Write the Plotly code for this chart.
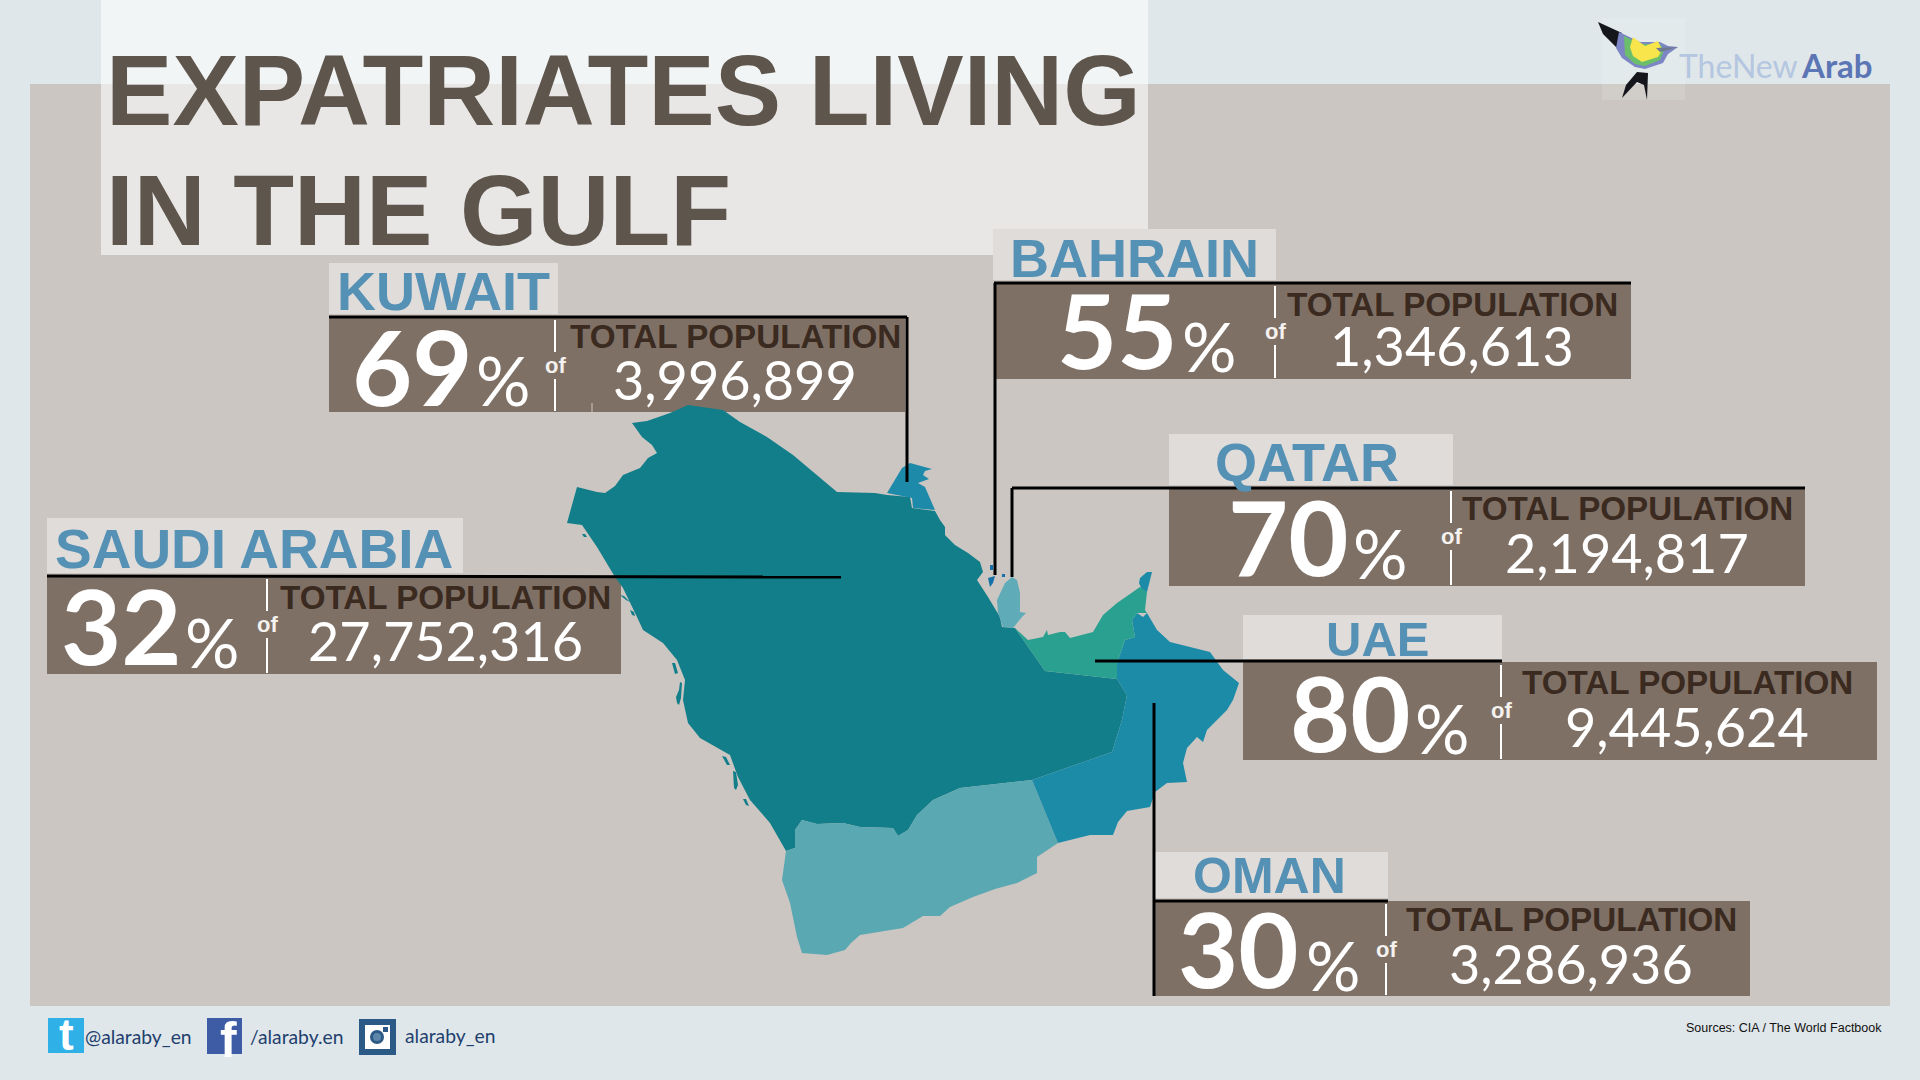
import plotly.graph_objects as go

countries = ['KUWAIT', 'BAHRAIN', 'QATAR', 'UAE', 'OMAN', 'SAUDI ARABIA']
expat_pct = [69, 55, 70, 80, 30, 32]
population = [3996899, 1346613, 2194817, 9445624, 3286936, 27752316]

# map outlines (x, y in image pixels)
saudi = [(577, 487), (597, 492), (605, 493), (615, 486), (623, 475), (640, 468), (648, 458), (657, 453),
         (652, 445), (642, 437), (632, 423), (647, 421), (670, 413), (688, 405), (723, 410), (740, 422),
         (767, 437), (793, 455), (837, 492), (875, 493), (887, 495), (910, 497), (912, 508), (935, 511),
         (940, 520), (945, 527), (945, 535), (955, 545), (968, 553), (980, 562), (983, 572), (977, 580),
         (988, 597), (1000, 617), (1002, 627), (1015, 628), (1045, 671), (1117, 679), (1127, 695), (1122, 720),
         (1112, 752), (1032, 780), (960, 788), (933, 800), (917, 815), (908, 830), (898, 836), (893, 828),
         (860, 827), (843, 823), (817, 824), (802, 820), (795, 830), (795, 848), (786, 851), (770, 823),
         (750, 800), (738, 777), (730, 755), (713, 745), (700, 738), (688, 723), (683, 700), (685, 680),
         (677, 660), (663, 643), (643, 630), (637, 617), (623, 588), (615, 577), (597, 547), (582, 525),
         (567, 523)]
saudi_islands = [[(672, 663), (675, 663), (678, 673), (675, 674)],
                 [(680, 682), (682, 683), (681, 698), (679, 705), (677, 703), (676, 697), (679, 690)],
                 [(722, 756), (726, 757), (730, 765), (727, 765)],
                 [(733, 771), (736, 772), (738, 785), (736, 790), (734, 788)],
                 [(743, 799), (746, 799), (749, 806), (746, 805)],
                 [(582, 534), (585, 534), (587, 537), (584, 537)],
                 [(620, 595), (624, 596), (630, 602), (626, 600)],
                 [(630, 610), (634, 612), (635, 616), (632, 615)]]
yemen = [(786, 851), (795, 848), (795, 830), (802, 820), (817, 824), (843, 823), (860, 827), (893, 828),
         (898, 836), (908, 830), (917, 815), (933, 800), (960, 788), (1032, 780), (1058, 843), (1037, 857),
         (1037, 873), (1017, 883), (995, 889), (973, 897), (950, 907), (940, 916), (923, 916), (903, 928),
         (860, 935), (851, 943), (845, 950), (827, 955), (802, 953), (797, 937), (790, 903), (782, 880)]
oman = [(1147, 613), (1157, 630), (1170, 642), (1210, 652), (1223, 670), (1239, 683), (1233, 700),
        (1227, 710), (1207, 730), (1203, 742), (1197, 737), (1187, 748), (1183, 763), (1187, 782),
        (1167, 783), (1155, 792), (1150, 807), (1127, 811), (1118, 822), (1113, 835), (1090, 835),
        (1058, 843), (1032, 780), (1112, 752), (1122, 720), (1127, 695), (1117, 679), (1117, 663),
        (1125, 640), (1135, 637), (1132, 620), (1137, 613), (1143, 617)]
musandam = [(1140, 578), (1147, 572), (1152, 572), (1147, 592), (1142, 590), (1139, 583)]
uae = [(1015, 628), (1028, 640), (1043, 637), (1047, 630), (1048, 635), (1060, 632), (1065, 632), (1070, 638),
       (1093, 632), (1103, 615), (1117, 603), (1140, 587), (1147, 592), (1145, 610), (1147, 613), (1137, 613),
       (1132, 620), (1135, 637), (1125, 640), (1117, 663), (1117, 679), (1045, 671)]
kuwait = [(887, 493), (902, 468), (910, 463), (932, 469), (925, 471), (923, 475), (929, 479), (918, 483),
          (925, 487), (932, 503), (935, 510), (913, 508), (912, 498)]
qatar = [(1012, 577), (1017, 580), (1020, 593), (1020, 612), (1026, 613), (1022, 617), (1013, 628), (1003, 627),
         (998, 613), (997, 600), (1005, 583)]
bahrain = [(988, 578), (995, 576), (993, 583), (990, 587)]
bahrain_islets = [[(990, 565), (993, 565), (993, 570), (990, 570)], [(1002, 574), (1005, 574), (1005, 577), (1002, 577)]]

# logo bird
bird_wing = [(1598, 22), (1622, 33), (1617, 48), (1611, 42), (1603, 34)]
bird_band = [(1619, 32), (1640, 42), (1660, 42), (1668, 46), (1678, 47), (1668, 54), (1663, 63), (1645, 69),
             (1635, 67), (1622, 58), (1616, 48)]
bird_green = [(1624, 36), (1640, 44), (1660, 44), (1664, 50), (1660, 60), (1645, 66), (1635, 64), (1625, 55)]
bird_yellow = [(1633, 37), (1645, 46), (1658, 41), (1662, 50), (1658, 57), (1642, 62), (1633, 56), (1630, 47)]
bird_beak = [(1656, 48), (1678, 47), (1668, 50), (1660, 52)]
bird_tail = [(1637, 72), (1648, 73), (1647, 100), (1644, 85), (1637, 82), (1622, 98), (1626, 85)]

# panel layout, one per country, same order as countries
panels = [
    dict(y=317, x0=329, x1=905, h=95, lx0=329, lx1=558, lt=263, lc=443, ls=54, ly=-26, div=555, big=412, pct=503, tot=735,
         dbig=4, dpct=0, dtot=0, dnum=0),
    dict(y=283, x0=994, x1=1631, h=96, lx0=993, lx1=1276, lt=229, lc=1134, ls=54, ly=-25, div=1275, big=1117, pct=1209, tot=1452,
         dbig=1, dpct=0, dtot=2.5, dnum=0),
    dict(y=488, x0=1169, x1=1805, h=98, lx0=1169, lx1=1453, lt=434, lc=1307, ls=54, ly=-26, div=1451, big=1288, pct=1380, tot=1627,
         dbig=3, dpct=2, dtot=1, dnum=2.5),
    dict(y=662, x0=1243, x1=1877, h=98, lx0=1243, lx1=1502, lt=615, lc=1377, ls=49, ly=-23, div=1501, big=1350, pct=1442, tot=1687,
         dbig=5, dpct=3, dtot=1, dnum=2.5),
    dict(y=901, x0=1154, x1=1750, h=95, lx0=1155, lx1=1388, lt=852, lc=1269, ls=50, ly=-25, div=1386, big=1238, pct=1333, tot=1571,
         dbig=2, dpct=1, dtot=-1, dnum=0),
    dict(y=576, x0=47, x1=621, h=98, lx0=47, lx1=463, lt=518, lc=254, ls=55, ly=-27, div=267, big=121, pct=212, tot=445,
         dbig=4, dpct=3, dtot=2.5, dnum=2.5),
]
# black leader lines
leaders = [(329, 317, 907, 317), (907, 317, 907, 482),
           (994, 283, 1631, 283), (995, 283, 995, 575),
           (1012, 488, 1805, 488), (1012, 488, 1012, 577),
           (1095, 661, 1502, 661),
           (1154, 703, 1154, 996), (1154, 901, 1388, 901),
           (47, 576, 841, 577)]

BG = '#e0e7ea'
SAND = '#cbc6c2'
BOX = '#7f7066'
LABEL_BOX = '#e0dcd9'
LABEL = '#5590b5'
DARK = '#3a2a20'
TITLE = '#5e554d'

fig = go.Figure()


def poly(points, color):
    fig.add_trace(go.Scatter(x=[p[0] for p in points], y=[p[1] for p in points], mode='lines',
                             fill='toself', fillcolor=color, line=dict(width=0, color=color),
                             hoverinfo='skip', showlegend=False))


def rect(x0, y0, x1, y1, color, layer='below', opacity=1):
    fig.add_shape(type='rect', x0=x0, y0=y0, x1=x1, y1=y1, fillcolor=color, opacity=opacity,
                  line_width=0, layer=layer)


def line(x0, y0, x1, y1, color='#000000', width=3):
    fig.add_shape(type='line', x0=x0, y0=y0, x1=x1, y1=y1, line=dict(color=color, width=width), layer='above')


def text(x, y, s, size, color, font='Liberation Sans', anchor='center', bold=False):
    fig.add_annotation(x=x, y=y, text='<b>%s</b>' % s if bold else s, showarrow=False, xanchor=anchor,
                       yanchor='middle', font=dict(family=font, size=size, color=color))


rect(30, 84, 1890, 1006, SAND)
rect(101, 0, 1148, 255, '#ffffff', opacity=0.58)
rect(1602, 18, 1685, 100, '#ffffff', opacity=0.12)

for name, pct, pop, p in zip(countries, expat_pct, population, panels):
    y = p['y']
    rect(p['lx0'], p['lt'], p['lx1'], y - 3, LABEL_BOX)
    rect(p['x0'], y, p['x1'], y + p['h'], BOX)
    line(p['div'], y + 3, p['div'], y + 35, '#ffffff', 2)
    line(p['div'], y + 62, p['div'], y + p['h'] - 1, '#ffffff', 2)
    text(p['lc'], y + p['ly'], name, p['ls'], LABEL, bold=True)
    text(p['big'], y + 44 + p['dbig'], str(pct), 104, '#ffffff', 'Lato', bold=True)
    text(p['pct'], y + 62 + p['dpct'], '%', 68, '#ffffff', 'Lato')
    text(p['div'], y + 48, 'of', 22, '#f4f1ee', bold=True)
    text(p['tot'], y + 19 + p['dtot'], 'TOTAL POPULATION', 33.2, DARK, bold=True)
    text(p['tot'], y + 62 + p['dnum'], format(pop, ','), 54, '#ffffff', 'Lato')

line(592, 403, 592, 412, '#cbc6c2', 1)

poly(saudi, '#127e8a')
for isl in saudi_islands:
    poly(isl, '#127e8a')
poly(yemen, '#5aa8b2')
poly(oman, '#1c8ba8')
poly(musandam, '#1c8ba8')
poly(uae, '#2aa190')
poly(kuwait, '#1e8aaa')
poly(qatar, '#5fabb8')
poly(bahrain, '#1670a8')
for isl in bahrain_islets:
    poly(isl, '#1670a8')

poly(bird_wing, '#15151c')
poly(bird_band, '#7d86c4')
poly(bird_green, '#6cbf6a')
poly(bird_yellow, '#f7e54b')
poly(bird_beak, '#6d7a90')
poly(bird_tail, '#15151c')

for l in leaders:
    line(*l)

text(104, 90, 'EXPATRIATES LIVING', 99.6, TITLE, anchor='left', bold=True)
text(104, 210, 'IN THE GULF', 99.6, TITLE, anchor='left', bold=True)

text(1800, 65, 'TheNew', 32, '#b4c6e0', 'Lato', anchor='right')
text(1799, 65, 'Arab', 33, '#5b75b5', 'Lato', anchor='left', bold=True)

# footer icons
rect(48, 1018, 84, 1053, '#2fb0e6', 'above')
text(66, 1034, 't', 44, '#ffffff', bold=True)
rect(207, 1018, 242, 1054, '#3d5ca5', 'above')
text(228, 1040, 'f', 50, '#ffffff', bold=True)
rect(359, 1019, 396, 1055, '#2a5a85', 'above')
rect(365, 1025, 390, 1049, '#ffffff', 'above')
rect(383, 1027, 388, 1032, '#2a5a85', 'above')
fig.add_shape(type='circle', x0=370, y0=1030, x1=384, y1=1044, fillcolor='#2a5a85', line_width=0, layer='above')
fig.add_shape(type='circle', x0=373, y0=1033, x1=381, y1=1041, fillcolor='#5e86aa', line_width=0, layer='above')
text(83, 1036, '@alaraby_en', 19.3, '#1f3f6e', 'Lato', anchor='left')
text(248, 1036, '/alaraby.en', 19.3, '#1f3f6e', 'Lato', anchor='left')
text(403, 1035, 'alaraby_en', 19.3, '#1f3f6e', 'Lato', anchor='left')
text(1884, 1028, 'Sources: CIA / The World Factbook', 12.5, '#111111', anchor='right')

fig.update_xaxes(range=[0, 1920], visible=False, fixedrange=True)
fig.update_yaxes(range=[1080, 0], visible=False, fixedrange=True)
fig.update_layout(width=1920, height=1080, margin=dict(l=0, r=0, t=0, b=0),
                  paper_bgcolor=BG, plot_bgcolor=BG, showlegend=False)

fig.write_html("out.html", post_script="document.body.style.margin='0';", config={'displayModeBar': False})
